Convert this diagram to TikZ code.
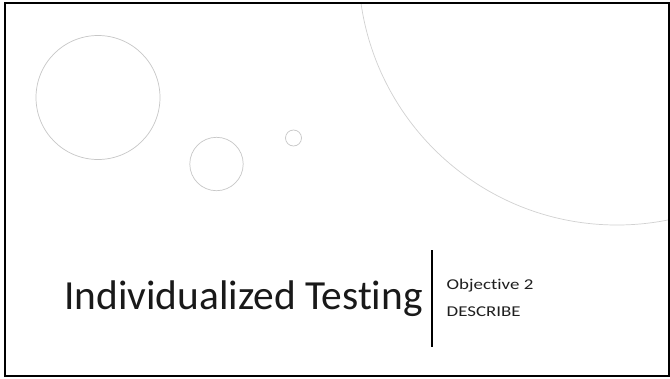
\documentclass[tikz,border=0pt]{standalone}
\usepackage{fontspec}
\setmainfont{Carlito}[Ligatures={NoCommon}]
\newfontfamily\widesub{Carlito}[FakeStretch=1.26,Ligatures={NoCommon}]
\begin{document}
\begin{tikzpicture}[x=1pt,y=-1pt,
  ring/.style={draw=black!22,line width=0.7pt},
  bigring/.style={draw=black!18,line width=0.7pt},
  titletext/.style={anchor=base west,inner sep=0pt,text=black!90,font=\fontsize{41.4}{48}\selectfont},
  subtext/.style={anchor=base west,inner sep=0pt,align=left,text=black!88,font=\widesub\fontsize{15}{26.7}\selectfont},
  divider/.style={draw=black,line width=1.6pt}]
  \useasboundingbox (0,0) rectangle (670,378);
  \fill[white] (0,0) rectangle (670,378);

  % decorative bubbles
  \draw[ring] (98,97.5) circle[radius=62];
  \draw[ring] (216.5,164) circle[radius=26.7];
  \draw[ring] (293.5,138) circle[radius=8];

  % large arc entering from the top edge
  \begin{scope}
    \clip (5,3) rectangle (668.5,375.5);
    \draw[bigring] (617,-33.6) circle[radius=258.6];
  \end{scope}

  % title, divider and subtitle (base anchor sits on the last line)
  \node[titletext] (title) at (64,309) {Individualized Testing};
  \coordinate (divtop) at (432,250);
  \coordinate (divbot) at (432,347);
  \draw[divider] (divtop) -- (divbot);
  \node[subtext] (subtitle) at (446.5,316) {Objective 2\\DESCRIBE};

  % frame
  \draw[line width=2pt,black] (5,3) rectangle (668.5,375.5);
\end{tikzpicture}
\end{document}
